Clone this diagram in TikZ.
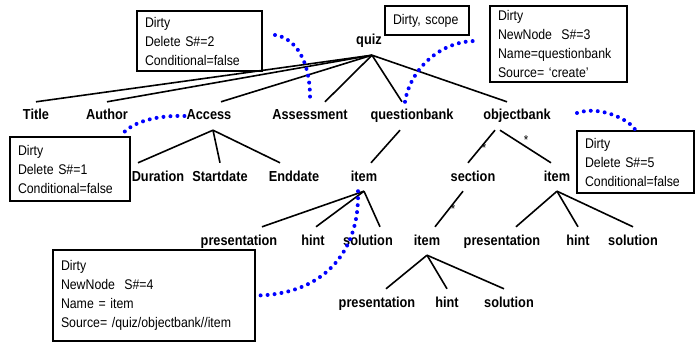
\documentclass[tikz,border=0pt]{standalone}
\usepackage{fontspec}
\newfontfamily\helvn[FakeStretch=0.88]{Liberation Sans}
\tikzset{
  lbl/.style={font=\helvn\fontsize{14.5}{17}\selectfont\bfseries,text height=11pt,text depth=3pt,inner xsep=2pt,inner ysep=7pt},
  note/.style={draw,line width=1.7pt,align=left,inner xsep=8pt,inner ysep=2pt,font=\helvn\fontsize{14}{19}\selectfont},
  branch/.style={line width=1.6pt},
  dirty/.style={blue,line width=4pt,line cap=round,dash pattern=on 0pt off 7pt},
  mult/.style={font=\helvn\fontsize{13}{13}\selectfont,inner sep=1pt}
}
\begin{document}
\begin{tikzpicture}[x=1pt,y=-1pt]
        \useasboundingbox (0,0) rectangle (696,342);
        \node[lbl] (quiz) at (369,41) {quiz};
        \node[lbl] (title) at (36,116) {Title};
        \node[lbl] (author) at (107,116) {Author};
        \node[lbl] (access) at (209,116) {Access};
        \node[lbl] (assess) at (310,116) {Assessment};
        \node[lbl] (qbank) at (412,116) {questionbank};
        \node[lbl] (obank) at (517,116) {objectbank};
        %% second row
        \node[lbl] (dur) at (158,177) {Duration};
        \node[lbl] (start) at (220,177) {Startdate};
        \node[lbl] (end) at (294,177) {Enddate};
        \node[lbl] (qitem) at (364,177) {item};
        \node[lbl] (sect) at (473,177) {section};
        \node[lbl] (oitem) at (557,177) {item};
        %% third row
        \node[lbl] (qpres) at (239,241) {presentation};
        \node[lbl] (qhint) at (313,241) {hint};
        \node[lbl] (qsol) at (368,241) {solution};
        \node[lbl] (sitem) at (427,241) {item};
        \node[lbl] (opres) at (502,241) {presentation};
        \node[lbl] (ohint) at (578,241) {hint};
        \node[lbl] (osol) at (633,241) {solution};
        %% fourth row
        \node[lbl] (spres) at (377,303) {presentation};
        \node[lbl] (shint) at (447,303) {hint};
        \node[lbl] (ssol) at (509,303) {solution};
        %% tree lines
        \draw[branch] ([xshift=3pt]quiz.south) -- (title.north);
        \draw[branch] ([xshift=3pt]quiz.south) -- (author.north);
        \draw[branch] ([xshift=3pt]quiz.south) -- ([xshift=12pt]access.north);
        \draw[branch] ([xshift=3pt]quiz.south) -- ([xshift=15pt]assess.north);
        \draw[branch] ([xshift=3pt]quiz.south) -- ([xshift=-10pt]qbank.north);
        \draw[branch] ([xshift=3pt]quiz.south) -- ([xshift=-10pt]obank.north);
        \draw[branch] ([xshift=4pt]access.south) -- ([xshift=-20pt]dur.north);
        \draw[branch] ([xshift=4pt]access.south) -- (start.north);
        \draw[branch] ([xshift=4pt]access.south) -- ([xshift=-14pt]end.north);
        \draw[branch] ([xshift=-12pt]qbank.south) -- ([xshift=7pt]qitem.north);
        \draw[branch] ([xshift=-22pt]obank.south) -- node[mult,pos=.55,right] {*} ([xshift=-5pt]sect.north);
        \draw[branch] ([xshift=-17pt]obank.south) -- node[mult,pos=.45,above right=-1pt] {*} ([xshift=-6pt]oitem.north);
        \draw[branch] (qitem.south) -- ([xshift=23pt]qpres.north);
        \draw[branch] (qitem.south) -- ([xshift=3pt]qhint.north);
        \draw[branch] (qitem.south) -- ([xshift=12pt]qsol.north);
        \draw[branch] ([xshift=-10pt]sect.south) -- node[mult,pos=.5,right] {*} ([xshift=8pt]sitem.north);
        \draw[branch] (oitem.south) -- ([xshift=14pt]opres.north);
        \draw[branch] (oitem.south) -- (ohint.north);
        \draw[branch] (oitem.south) -- (osol.north);
        \draw[branch] (sitem.south) -- ([xshift=9pt]spres.north);
        \draw[branch] (sitem.south) -- (shint.north);
        \draw[branch] (sitem.south) -- ([xshift=-5pt]ssol.north);
        %% notes
        \node[note,text width=109pt,minimum height=60pt] (del2) at (199.5,41) {Dirty\\Delete S\#=2\\Conditional=false};
        \node[note,text width=68pt,minimum height=29pt] (scope) at (427,20.5) {Dirty, scope};
        \node[note,text width=121pt,minimum height=76pt] (new3) at (558.5,44) {Dirty\\NewNode~~S\#=3\\Name=questionbank\\Source= ‘create’};
        \node[note,text width=104pt,minimum height=64pt] (del1) at (70,169) {Dirty\\Delete S\#=1\\Conditional=false};
        \node[note,text width=101pt,minimum height=62pt] (del5) at (635.5,162) {Dirty\\Delete S\#=5\\Conditional=false};
        \node[note,text width=186pt,minimum height=91pt] (new4) at (154,295.5) {Dirty\\NewNode~~S\#=4\\Name = item\\Source= /quiz/objectbank//item};
        %% dotted marks
        \coordinate (d2end) at (275,35);
        \coordinate (d3end) at (478,41);
        \coordinate (d5end) at (577,113);
        \draw[dirty] (d2end) .. controls (295,38) and (311,60) .. (assess.north);
        \draw[dirty] (access.west) .. controls (150,115) and (128,125) .. ([xshift=-10pt]del1.north east);
        \draw[dirty] ([xshift=-7pt]qbank.north) .. controls (410,70) and (440,40) .. (d3end);
        \draw[dirty] (d5end) .. controls (600,105) and (630,120) .. (del5.north);
        \draw[dirty] ([xshift=-6pt]qitem.south) .. controls (360,255) and (320,295) .. (new4.east);
    \end{tikzpicture}
\end{document}
